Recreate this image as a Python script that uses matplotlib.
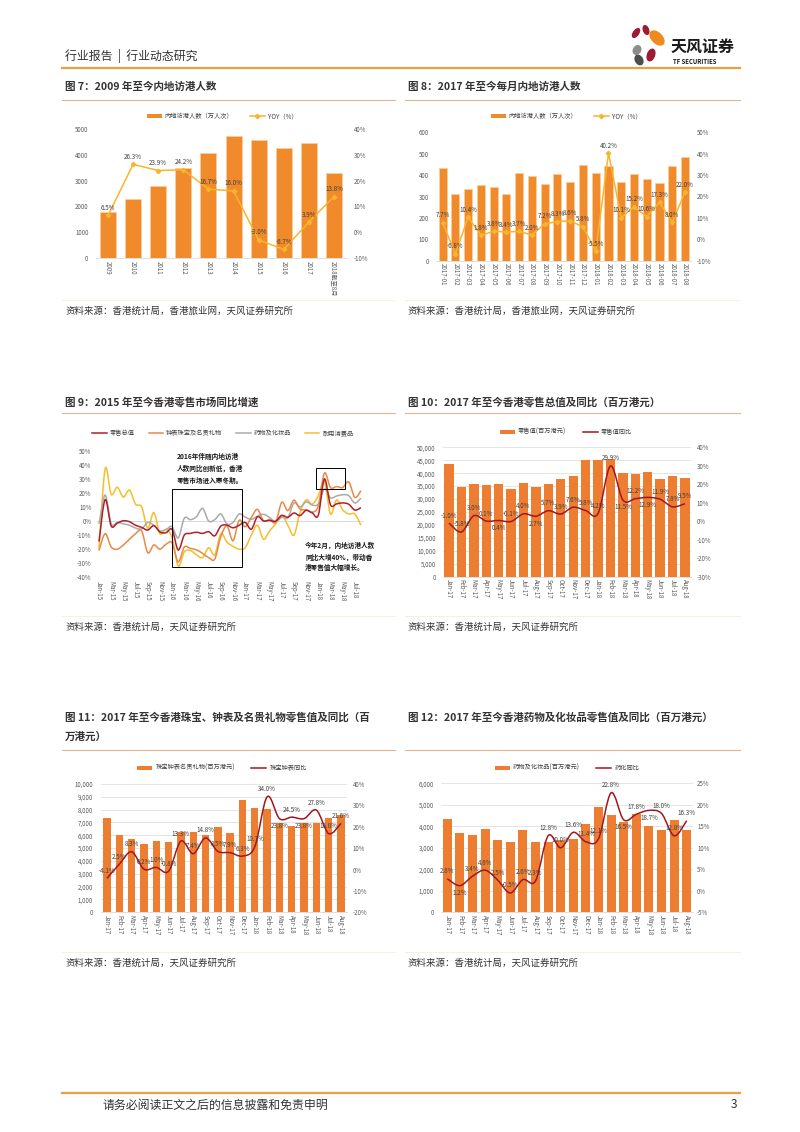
import numpy as np
import matplotlib
matplotlib.use("Agg")
import matplotlib.pyplot as plt
from matplotlib.path import Path
from matplotlib.patches import PathPatch, Patch, Ellipse, Rectangle
from matplotlib.lines import Line2D
from matplotlib.ticker import FuncFormatter

plt.rcParams['font.family'] = ['Noto Sans CJK SC', 'DejaVu Sans']

W, H = 800, 1132

# ---- data ----
years = ["2009", "2010", "2011", "2012", "2013", "2014", "2015", "2016", "2017", "2018截至8月"]
visitors_year = [1790, 2270, 2810, 3490, 4070, 4720, 4580, 4280, 4440, 3280]
visitors_year_yoy = [6.5, 26.3, 23.9, 24.2, 16.7, 16.0, -3.0, -6.7, 3.9, 13.8]

months_num = ["2017-01", "2017-02", "2017-03", "2017-04", "2017-05", "2017-06", "2017-07",
              "2017-08", "2017-09", "2017-10", "2017-11", "2017-12", "2018-01", "2018-02",
              "2018-03", "2018-04", "2018-05", "2018-06", "2018-07", "2018-08"]
visitors_month = [435, 313, 333, 352, 346, 310, 408, 396, 358, 404, 367, 449, 412, 441,
                  367, 406, 383, 364, 441, 483]
visitors_month_yoy = [7.7, -6.8, 10.4, 1.8, 3.8, 3.4, 3.7, 2.0, 7.2, 8.3, 8.6, 5.8, -5.5, 40.2,
                      10.1, 15.2, 10.6, 17.3, 8.0, 22.0]

months = ["Jan-17", "Feb-17", "Mar-17", "Apr-17", "May-17", "Jun-17", "Jul-17", "Aug-17",
          "Sep-17", "Oct-17", "Nov-17", "Dec-17", "Jan-18", "Feb-18", "Mar-18", "Apr-18",
          "May-18", "Jun-18", "Jul-18", "Aug-18"]

retail_value = [43400, 34800, 35800, 35300, 35950, 33760, 36200, 34800, 35800, 37600, 38900,
                45100, 45000, 45500, 39950, 39700, 40600, 37900, 39000, 38300]
retail_yoy = [-1.0, -5.8, 3.0, 0.1, 0.4, -0.1, 4.0, 2.7, 5.7, 3.9, 7.6, 5.8, 4.2, 29.9,
              11.5, 12.2, 12.9, 11.9, 7.8, 9.5]

jewel_value = [7350, 6030, 5700, 5300, 5560, 5450, 6230, 6230, 6030, 6670, 6150, 8750, 8150,
               8080, 6930, 6730, 6930, 6930, 7320, 7580]
jewel_yoy = [-4.1, 2.5, 8.3, 0.2, 1.0, -0.8, 13.3, 7.4, 14.8, 8.5, 7.9, 6.3, 10.7, 34.0,
             23.8, 24.5, 23.8, 27.8, 16.8, 21.6]

cosm_value = [4340, 3670, 3600, 3860, 3360, 3260, 3810, 3290, 3290, 3370, 3400, 4110, 4880,
              4530, 4220, 4590, 4020, 3830, 4300, 3830]
cosm_yoy = [2.8, 1.2, 3.4, 4.8, 2.5, -0.5, 2.6, 2.3, 12.8, 10.0, 13.6, 11.4, 12.1, 22.8,
            16.5, 17.8, 18.7, 18.0, 12.8, 16.3]

# chart 9: monthly yoy, Jan-15 .. Aug-18
m9_ticks = ["Jan-15", "Mar-15", "May-15", "Jul-15", "Sep-15", "Nov-15", "Jan-16", "Mar-16",
            "May-16", "Jul-16", "Sep-16", "Nov-16", "Jan-17", "Mar-17", "May-17", "Jul-17",
            "Sep-17", "Nov-17", "Jan-18", "Mar-18", "May-18", "Jul-18"]
total_15_16 = [-14.6, 15.2, -3.5, -1.5, 0.2, -0.5, -3.0, -4.5, -6.4, -3.3, -7.8, -8.3,
               -6.0, -20.6, -10.0, -8.8, -8.0, -8.8, -7.6, -10.5, -3.6, -2.9, -4.8, -3.0]
jewel_15_16 = [-21.0, -9.0, -18.5, -20.0, -17.0, -13.0, -9.0, -7.0, -22.5, -17.0, -20.0, -16.5,
               -15.5, -29.0, -18.5, -19.5, -20.5, -23.0, -26.0, -27.0, -11.0, -3.5, -14.0, 0.5]
cosm_15_16 = [-2.0, 18.5, -2.0, -1.0, -2.0, -3.0, -5.0, -5.5, -1.0, -3.0, -7.0, -6.0,
              -4.0, -12.0, 2.0, 1.0, 3.0, 9.0, 0.0, 1.0, 5.0, -2.0, -1.0, 5.0]
durable = [-20.0, 37.0, 19.0, 24.0, 17.0, 22.0, 12.0, 10.0, -5.0, 6.0, -9.0, -6.0,
           -12.0, -32.0, -22.0, -21.0, -24.0, -26.0, -19.0, -24.0, -9.0, -15.0, -18.0, -20.0,
           -19.0, -10.0, -3.0, -13.0, -7.0, -2.0, 4.0, -3.0, -10.0, 6.0, 15.0, 12.0,
           18.0, 28.0, 5.0, 15.0, 8.0, 5.0, 5.0, -3.0]
total_yoy = total_15_16 + retail_yoy
jewel_all = jewel_15_16 + jewel_yoy
cosm_all = cosm_15_16 + cosm_yoy

ORANGE = '#F08A2B'
BAR = '#ED7D31'
YELLOW = '#F7B52C'
DARKRED = '#A3161E'
TXT = '#404040'
TICK = '#595959'


def px_axes(fig, left, top, right, bottom):
    return fig.add_axes([left / W, 1 - bottom / H, (right - left) / W, (bottom - top) / H])


def ftext(fig, x, y, s, **kw):
    fig.text(x / W, 1 - y / H, s, **kw)


def hline(fig, x0, x1, y, color, lw):
    fig.add_artist(Line2D([x0 / W, x1 / W], [1 - y / H, 1 - y / H], color=color, lw=lw))


def smooth_path(x, y):
    # Catmull-Rom curve drawn as cubic bezier segments through the data points
    pts = np.column_stack([x, y]).astype(float)
    ext = np.vstack([pts[0], pts, pts[-1]])
    verts = [pts[0]]
    codes = [Path.MOVETO]
    for i in range(len(pts) - 1):
        p0, p1, p2, p3 = ext[i], ext[i + 1], ext[i + 2], ext[i + 3]
        verts += [p1 + (p2 - p0) / 6, p2 - (p3 - p1) / 6, p2]
        codes += [Path.CURVE4] * 3
    return Path(verts, codes)


def style(ax):
    for s in ['top', 'left', 'right']:
        ax.spines[s].set_visible(False)
    ax.spines['bottom'].set_color('#D9D9D9')
    ax.spines['bottom'].set_linewidth(0.6)
    ax.tick_params(length=0, labelsize=4.4, colors=TICK)


def pct(v, _=None):
    return f"{v:.0f}%"


def labels(ax, y, below=(), dy=2.5):
    for i, v in enumerate(y):
        b = i in below
        ax.annotate(f"{v:.1f}%", (i, v), xytext=(0, -dy if b else dy), textcoords='offset points',
                    ha='center', va='top' if b else 'bottom', fontsize=4.5, color=TXT, zorder=5)


def combo(fig, box, cats, bars, yoy, blim, bstep, ylim, ystep, bfmt, bar_color, line_color,
          smooth, width, grid, below, lpad, rpad, edge=None):
    ax = px_axes(fig, *box)
    style(ax)
    x = np.arange(len(cats))
    ax.bar(x, bars, width=width, color=bar_color, zorder=2,
           edgecolor=edge if edge else bar_color, linewidth=0.5 if edge else 0)
    ax.set_xlim(-0.5, len(cats) - 0.5)
    ax.set_ylim(*blim)
    ax.set_yticks(np.arange(blim[0], blim[1] + 1, bstep))
    ax.yaxis.set_major_formatter(FuncFormatter(bfmt))
    ax.set_xticks(x)
    ax.set_xticklabels(cats, rotation=-90, ha='center', va='top')
    ax.tick_params(axis='x', pad=2)
    ax.tick_params(axis='y', pad=lpad)
    if grid:
        ax.yaxis.grid(True, color='#D9D9D9', lw=0.5)
        ax.set_axisbelow(True)
    ax2 = ax.twinx()
    style(ax2)
    ax2.spines['bottom'].set_visible(False)
    ax2.set_ylim(*ylim)
    ax2.set_yticks(np.arange(ylim[0], ylim[1] + 0.1, ystep))
    ax2.yaxis.set_major_formatter(FuncFormatter(pct))
    ax2.tick_params(axis='y', pad=rpad)
    if smooth:
        ax2.add_patch(PathPatch(smooth_path(x, yoy), fill=False, edgecolor=line_color, lw=1.1,
                                zorder=3))
    else:
        ax2.plot(x, yoy, color=line_color, lw=1.1, marker='D', markersize=2.2, zorder=3)
    ax2.set_xlim(-0.5, len(cats) - 0.5)
    labels(ax2, yoy, below)
    return ax, ax2


def legend2(fig, cx, cy, bar_color, line_color, texts, marker=None):
    handles = [Patch(facecolor=bar_color, edgecolor='none'),
               Line2D([], [], color=line_color, lw=1.1, marker=marker, markersize=2.2)]
    fig.legend(handles, texts, loc='center', bbox_to_anchor=(cx / W, 1 - cy / H), ncol=2,
               frameon=False, fontsize=4.5, handlelength=2.4, handleheight=0.55,
               columnspacing=2.6, handletextpad=0.5, labelcolor=TXT)


fig = plt.figure(figsize=(W / 100, H / 100), dpi=100)

# ---- page header / footer ----
ftext(fig, 65, 56, "行业报告  |  行业动态研究", fontsize=8.6, color='#333333', va='center')
hline(fig, 62, 740, 68, '#E8A040', 1.6)
logo = fig.add_axes([624 / W, 1 - 66 / H, 122 / W, 44 / H])
logo.set_xlim(624, 746)
logo.set_ylim(66, 22)
logo.axis('off')
for cx, cy, w, h, ang, col in [(636, 33, 5, 10, 35, '#9E1B32'), (646, 30, 5, 9, -20, '#9E1B32'),
                               (657, 38, 10, 17, -45, '#F08A1E'), (637, 50, 7, 9, 30, '#8C8C8C'),
                               (651, 55, 7, 12, 20, '#9E1B32'), (639, 60, 7, 10, -30, '#4D4D4D')]:
    logo.add_patch(Ellipse((cx, cy), w, h, angle=ang, color=col))
logo.text(671, 47, "天风证券", fontsize=11.5, fontweight='bold', color='#1A1A1A', va='center')
logo.text(673, 61, "TF SECURITIES", fontsize=4.3, fontweight='bold', color='#1A1A1A', va='center')

hline(fig, 62, 740, 1093, '#E8A040', 1.6)
ftext(fig, 103, 1105, "请务必阅读正文之后的信息披露和免责申明", fontsize=8.6, color='#333333', va='center')
ftext(fig, 731, 1105, "3", fontsize=8.6, color='#333333', va='center')

# ---- titles, underlines, sources ----
tkw = dict(fontsize=7.6, fontweight='bold', color='#333333', va='center')
ftext(fig, 65, 87, "图 7：2009 年至今内地访港人数", **tkw)
ftext(fig, 408, 87, "图 8：2017 年至今每月内地访港人数", **tkw)
ftext(fig, 65, 402, "图 9：2015 年至今香港零售市场同比增速", **tkw)
ftext(fig, 408, 402, "图 10：2017 年至今香港零售总值及同比（百万港元）", **tkw)
ftext(fig, 65, 717, "图 11：2017 年至今香港珠宝、钟表及名贵礼物零售值及同比（百", **tkw)
ftext(fig, 65, 737, "万港元）", **tkw)
ftext(fig, 408, 717, "图 12：2017 年至今香港药物及化妆品零售值及同比（百万港元）", **tkw)
for y in (100, 413, 750):
    hline(fig, 62, 395, y, '#DDB892', 0.8)
    hline(fig, 405, 740, y, '#DDB892', 0.8)

skw = dict(fontsize=6.8, color='#333333', va='center')
src1 = "资料来源：香港统计局，香港旅业网，天风证券研究所"
src2 = "资料来源：香港统计局，天风证券研究所"
for y, s in ((311, src1), (627, src2), (963, src2)):
    ftext(fig, 65, y, s, **skw)
    ftext(fig, 408, y, s, **skw)
for y in (300, 616, 952):
    hline(fig, 62, 395, y, '#F5EEDC', 0.6)
    hline(fig, 405, 740, y, '#F5EEDC', 0.6)

# ---- chart 7 ----
combo(fig, (95.5, 129, 346.5, 258), years, visitors_year, visitors_year_yoy, (0, 5000), 1000,
      (-10, 40), 10, lambda v, _: f"{v:.0f}", ORANGE, YELLOW, False, 0.64, False, (), 5, 5,
      edge='#F9CF9A')
legend2(fig, 222, 116, ORANGE, YELLOW, ["内地访港人数（万人次）", "YOY（%）"], marker='D')

# ---- chart 8 ----
combo(fig, (436.3, 132.3, 691.4, 260.7), months_num, visitors_month, visitors_month_yoy,
      (0, 600), 100, (-10, 50), 10, lambda v, _: f"{v:.0f}", ORANGE, YELLOW, False, 0.63,
      False, (), 5.5, 4, edge='#F9CF9A')
legend2(fig, 566, 116, ORANGE, YELLOW, ["内地访港人数（万人次）", "YOY（%）"], marker='D')

# ---- chart 9 ----
ax9 = px_axes(fig, 97, 450.7, 364, 577.3)
style(ax9)
ax9.spines['bottom'].set_visible(False)
ax9.axhline(0, color='#D9D9D9', lw=0.7, zorder=1)
x9 = np.arange(len(durable))
series9 = [(total_yoy, '#B0202A', "零售总值"), (jewel_all, '#E8894A', "钟表珠宝及名贵礼物"),
           (cosm_all, '#ABABAB', "药物及化妆品"), (durable, '#F7BE2A', "耐用消费品")]
for vals, col, _ in series9[::-1]:
    ax9.add_patch(PathPatch(smooth_path(x9, vals), fill=False, edgecolor=col, lw=1.1, zorder=2))
ax9.set_xlim(-0.33, 43.5)
ax9.set_ylim(-40, 50)
ax9.set_yticks(np.arange(-40, 51, 10))
ax9.yaxis.set_major_formatter(FuncFormatter(pct))
ax9.set_xticks(np.arange(0, 44, 2))
ax9.set_xticklabels(m9_ticks, rotation=-90, ha='center', va='top')
ax9.tick_params(axis='x', pad=3)
ax9.tick_params(axis='y', pad=4)
ax9.add_patch(Rectangle((11.9, -33), 11.5, 56, fill=False, edgecolor='black', lw=0.7, zorder=4))
ax9.add_patch(Rectangle((35.6, 23), 4.7, 15, fill=False, edgecolor='black', lw=0.7, zorder=4))
ftext(fig, 177, 453, "2016年伴随内地访港\n人数同比创新低，香港\n零售市场进入寒冬期。", fontsize=4.8,
      fontweight='bold', color='#1A1A1A', va='top', linespacing=1.75)
ftext(fig, 305, 542, "今年2月，内地访港人数\n同比大增40%，带动香\n港零售值大幅增长。", fontsize=4.8,
      fontweight='bold', color='#1A1A1A', va='top', linespacing=1.6)
fig.legend([Line2D([], [], color=c, lw=1.1) for _, c, _ in series9], [n for _, _, n in series9],
           loc='center', bbox_to_anchor=(223 / W, 1 - 433 / H), ncol=4, frameon=False,
           fontsize=4.5, handlelength=2.3, columnspacing=2.2, handletextpad=0.5, labelcolor=TXT)

# ---- chart 10 ----
combo(fig, (442.8, 447.3, 691.2, 576.7), months, retail_value, retail_yoy, (0, 50000), 5000,
      (-30, 40), 10, lambda v, _: f"{v:,.0f}", BAR, DARKRED, True, 0.75, True, (4, 7, 14, 16),
      5, 4)
legend2(fig, 566, 432, BAR, DARKRED, ["零售值(百万港元)", "零售值同比"])

# ---- chart 11 ----
combo(fig, (100.8, 784, 347.2, 912.3), months, jewel_value, jewel_yoy, (0, 10000), 1000,
      (-20, 40), 10, lambda v, _: f"{v:,.0f}", BAR, DARKRED, True, 0.6, True, (14, 16), 5.5, 4)
legend2(fig, 222, 768, BAR, DARKRED, ["珠宝钟表名贵礼物(百万港元)", "珠宝钟表同比"])

# ---- chart 12 ----
combo(fig, (441, 783.3, 693, 912.3), months, cosm_value, cosm_yoy, (0, 6000), 1000,
      (-5, 25), 5, lambda v, _: f"{v:,.0f}", BAR, DARKRED, True, 0.7, True, (1, 14, 16), 5, 3)
legend2(fig, 567, 768, BAR, DARKRED, ["药物及化妆品(百万港元)", "药化同比"])

fig.savefig("out.png", dpi=100)
